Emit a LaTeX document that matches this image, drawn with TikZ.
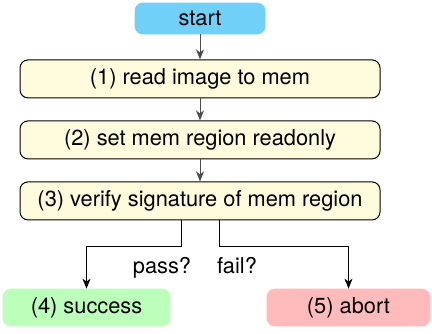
\documentclass[tikz,border=0pt]{standalone}
\usepackage{fontspec}
\setmainfont{TeX Gyre Heros}
\usetikzlibrary{positioning}
\usetikzlibrary{arrows.meta}
\definecolor{startblue}{HTML}{70D0F8}
\definecolor{stepyellow}{HTML}{FFFBDD}
\definecolor{okgreen}{HTML}{BBFFBB}
\definecolor{badred}{HTML}{FFBBBB}
\tikzset{
    startnode/.style = {rectangle, rounded corners=4pt, fill=startblue, draw=startblue, minimum width=65pt, minimum height=15.5pt, inner sep=0pt},
    stepnode/.style = {rectangle, rounded corners=4pt, fill=stepyellow, draw=black, line width=0.5pt, minimum width=180pt, minimum height=19pt, inner sep=0pt},
    oknode/.style = {rectangle, rounded corners=4pt, fill=okgreen, draw=okgreen, minimum width=83.5pt, minimum height=18.5pt, inner sep=0pt},
    badnode/.style = {rectangle, rounded corners=4pt, fill=badred, draw=badred, minimum width=81.5pt, minimum height=18.5pt, inner sep=0pt},
    edgeg/.style = {-{Stealth[length=5pt,width=4pt,inset=1.5pt]}, line width=0.5pt, black!70},
    edgen/.style = {-{Stealth[length=5pt,width=4pt,inset=1.5pt]}, line width=0.5pt, black},
    condtext/.style = {inner sep=0pt, anchor=base}
}

\begin{document}
\begin{tikzpicture}[font=\fontsize{10.9}{13}\selectfont]
  \useasboundingbox (0,0) rectangle (216pt,-166.5pt);
  \node[startnode] (start) at (100pt,-9.25pt) {start};
  \node[stepnode, below=12.5pt of start] (read) {(1) read image to mem};
  \node[stepnode, below=11pt of read] (lock) {(2) set mem region readonly};
  \node[stepnode, below=11pt of lock] (verify) {(3) verify signature of mem region};
  \node[oknode] (success) at (43.25pt,-153.75pt) {(4) success};
  \node[badnode] (abort) at (174.25pt,-153.75pt) {(5) abort};
  \node[condtext] (pass) at (81pt,-136.5pt) {pass?};
  \node[condtext] (fail) at (118.5pt,-136.5pt) {fail?};

  \draw[edgeg] (start) -- (read);
  \draw[edgeg] (read) -- (lock);
  \draw[edgeg] (lock) -- (verify);
  \draw[edgen] ([xshift=-9.5pt]verify.south) -- ++(0,-13pt) -| (success);
  \draw[edgen] ([xshift=9.5pt]verify.south) -- ++(0,-13pt) -| (abort);
\end{tikzpicture}
\end{document}
